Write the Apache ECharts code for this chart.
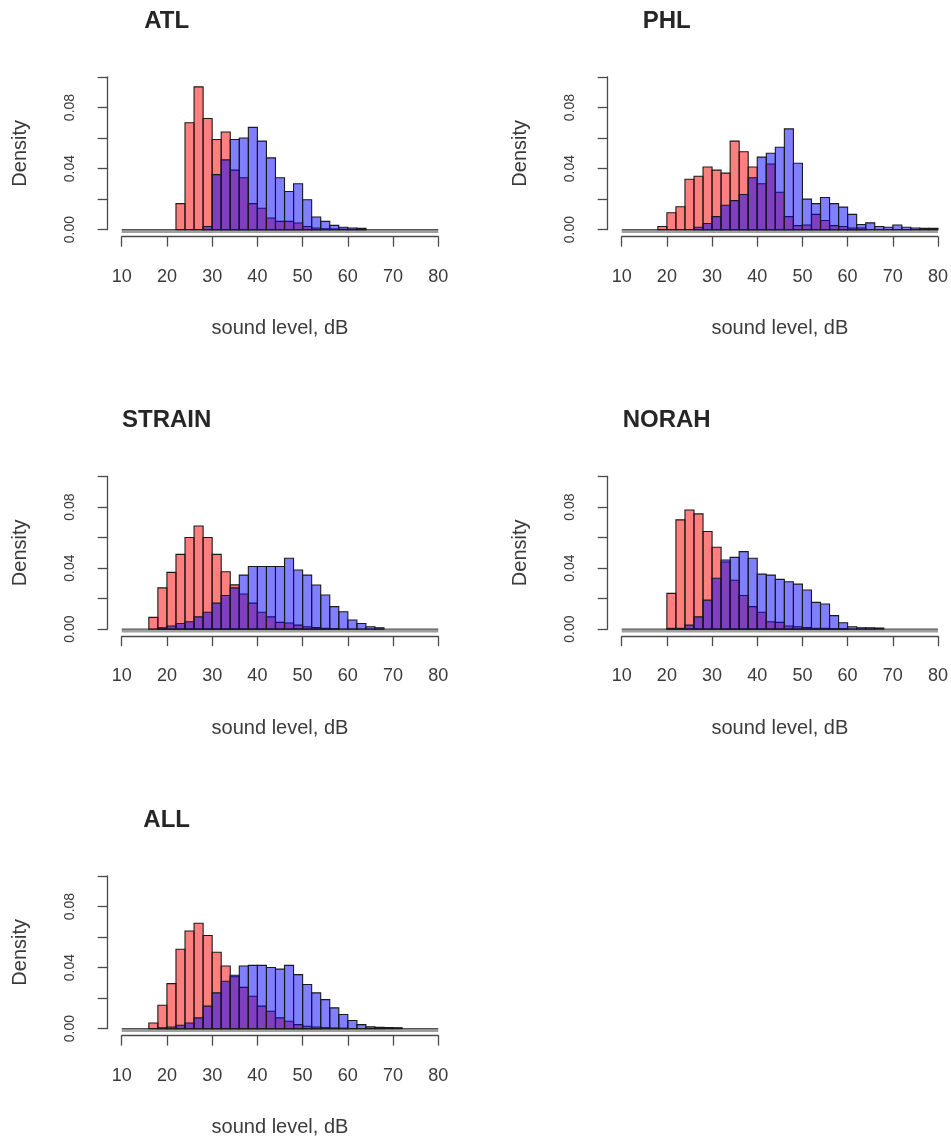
<!DOCTYPE html>
<html>
<head>
<meta charset="utf-8">
<script src="https://cdn.jsdelivr.net/npm/echarts@6/dist/echarts.min.js"></script>
<style>
  html, body { margin: 0; padding: 0; background: #ffffff; }
  #chart { width: 951px; height: 1139px; }
</style>
</head>
<body>
<div id="chart"></div>
<script>
// ---- data (densities, 2 dB bins) ----
const BREAKS = [14,16,18,20,22,24,26,28,30,32,34,36,38,40,42,44,46,48,50,52,54,56,58,60,62,64,66,68,70,72,74,76,78,80];
const X_TICKS = [10, 20, 30, 40, 50, 60, 70, 80];
const Y_TICK_LABELS = ['0.00', '0.04', '0.08'];
const PANEL_NAMES = ['ATL', 'PHL', 'STRAIN', 'NORAH', 'ALL'];
const X_LABEL = 'sound level, dB';
const Y_LABEL = 'Density';

// first bin left edge per panel/series
const atlRedStart = 22;
const atlRed = [0.017, 0.070, 0.0935, 0.0728, 0.059, 0.064, 0.039, 0.034, 0.017, 0.014, 0.0076, 0.0054, 0.0054, 0.0043, 0.002, 0.001, 0.0005, 0.0004, 0.0003, 0.0002, 0.0002];
const atlBlueStart = 28;
const atlBlue = [0.002, 0.036, 0.0457, 0.059, 0.060, 0.067, 0.058, 0.047, 0.034, 0.025, 0.030, 0.0196, 0.0083, 0.0054, 0.0028, 0.0015, 0.001, 0.0008];

const phlRedStart = 18;
const phlRed = [0.002, 0.011, 0.015, 0.033, 0.035, 0.041, 0.039, 0.037, 0.058, 0.051, 0.041, 0.030, 0.043, 0.0245, 0.0085, 0.0026, 0.003, 0.010, 0.006, 0.0026, 0.002, 0.001, 0.001];
const phlBlueStart = 26;
const phlBlue = [0.0015, 0.004, 0.0085, 0.016, 0.019, 0.023, 0.034, 0.0475, 0.050, 0.054, 0.066, 0.0435, 0.020, 0.017, 0.021, 0.017, 0.0147, 0.010, 0.0033, 0.0044, 0.002, 0.0015, 0.003, 0.0015, 0.001, 0.0008, 0.0008];

const strainRedStart = 16;
const strainRed = [0.0077, 0.027, 0.0372, 0.049, 0.060, 0.0676, 0.060, 0.049, 0.0376, 0.029, 0.023, 0.017, 0.011, 0.008, 0.0044, 0.004, 0.0026, 0.0015, 0.001, 0.0005, 0.0003];
const strainBlueStart = 18;
const strainBlue = [0.0009, 0.002, 0.0037, 0.0048, 0.008, 0.011, 0.017, 0.022, 0.027, 0.0354, 0.041, 0.041, 0.041, 0.041, 0.0464, 0.0387, 0.0354, 0.0289, 0.0223, 0.0147, 0.0114, 0.006, 0.0037, 0.0015, 0.0009];

const norahRedStart = 20;
const norahRed = [0.0234, 0.0716, 0.078, 0.0755, 0.064, 0.0536, 0.044, 0.032, 0.022, 0.0147, 0.011, 0.0048, 0.0044, 0.002, 0.0015, 0.001, 0.0005, 0.0005, 0.0003, 0.0003];
const norahBlueStart = 20;
const norahBlue = [0.0005, 0.0005, 0.0026, 0.008, 0.019, 0.0333, 0.0453, 0.047, 0.0508, 0.0464, 0.036, 0.0354, 0.0326, 0.031, 0.0295, 0.0256, 0.0175, 0.0164, 0.0088, 0.0042, 0.0015, 0.0009, 0.0009, 0.0007];

const allRedStart = 16;
const allRed = [0.0037, 0.0153, 0.0295, 0.052, 0.064, 0.069, 0.061, 0.050, 0.041, 0.034, 0.027, 0.0212, 0.0147, 0.0114, 0.007, 0.0048, 0.0026, 0.0015, 0.001, 0.0006, 0.0004, 0.0003];
const allBlueStart = 18;
const allBlue = [0.0005, 0.001, 0.0022, 0.0037, 0.007, 0.0147, 0.0234, 0.031, 0.035, 0.041, 0.0414, 0.0414, 0.040, 0.039, 0.0414, 0.0354, 0.0289, 0.0234, 0.019, 0.0136, 0.0092, 0.0053, 0.0026, 0.0011, 0.0008, 0.0007, 0.0006];

// ---- layout ----
const FONT = '"Liberation Sans", Arial, Helvetica, sans-serif';
const COL_LEFT = [121.7, 621.7];
const ROW_TOP = [77, 476.5, 876];
const PLOT_W = 316.6;
const PLOT_H = 152.6;
const RED_FILL = 'rgba(255,0,0,0.5)';
const BLUE_FILL = 'rgba(0,0,255,0.5)';
const AXIS_COLOR = '#4a4a4a';
const TEXT_COLOR = '#3a3a3a';

const panels = [
  { name: PANEL_NAMES[0], col: 0, row: 0, red: [atlRedStart, atlRed], blue: [atlBlueStart, atlBlue] },
  { name: PANEL_NAMES[1], col: 1, row: 0, red: [phlRedStart, phlRed], blue: [phlBlueStart, phlBlue] },
  { name: PANEL_NAMES[2], col: 0, row: 1, red: [strainRedStart, strainRed], blue: [strainBlueStart, strainBlue] },
  { name: PANEL_NAMES[3], col: 1, row: 1, red: [norahRedStart, norahRed], blue: [norahBlueStart, norahBlue] },
  { name: PANEL_NAMES[4], col: 0, row: 2, red: [allRedStart, allRed], blue: [allBlueStart, allBlue] }
];

function binData(start, vals) {
  const i0 = BREAKS.indexOf(start);
  return vals.map((v, i) => [BREAKS[i0 + i], BREAKS[i0 + i + 1], v]);
}

function histSeries(idx, spec, fill, z) {
  return {
    type: 'custom',
    xAxisIndex: idx,
    yAxisIndex: idx,
    z: z,
    silent: true,
    animation: false,
    data: binData(spec[0], spec[1]),
    encode: { x: [0, 1], y: 2 },
    renderItem: function (params, api) {
      const a = api.coord([api.value(0), api.value(2)]);
      const b = api.coord([api.value(1), 0]);
      return {
        type: 'rect',
        shape: { x: a[0], y: a[1], width: b[0] - a[0], height: b[1] - a[1] },
        style: { fill: fill, stroke: '#1a1a1a', lineWidth: 1.1 }
      };
    }
  };
}

function baselineSeries(idx) {
  return {
    type: 'custom',
    xAxisIndex: idx,
    yAxisIndex: idx,
    z: 1,
    silent: true,
    animation: false,
    data: [[X_TICKS[0], X_TICKS[X_TICKS.length - 1]]],
    encode: { x: [0, 1] },
    renderItem: function (params, api) {
      const a = api.coord([api.value(0), 0]);
      const b = api.coord([api.value(1), 0]);
      return {
        type: 'group',
        children: [
          { type: 'line', shape: { x1: a[0], y1: a[1] + 2, x2: b[0], y2: b[1] + 2 }, style: { stroke: '#a0a0a0', lineWidth: 3 } },
          { type: 'line', shape: { x1: a[0], y1: a[1], x2: b[0], y2: b[1] }, style: { stroke: '#555', lineWidth: 1.2 } }
        ]
      };
    }
  };
}

const grids = [], xAxes = [], yAxes = [], series = [], graphics = [];
panels.forEach((p, i) => {
  const left = COL_LEFT[p.col], top = ROW_TOP[p.row];
  grids.push({ left: left, top: top, width: PLOT_W, height: PLOT_H, containLabel: false });
  xAxes.push({
    gridIndex: i, type: 'value', min: X_TICKS[0], max: X_TICKS[X_TICKS.length - 1], interval: 10,
    offset: 7,
    axisLine: { show: true, onZero: false, lineStyle: { color: AXIS_COLOR, width: 1.3 } },
    axisTick: { show: true, length: 10, lineStyle: { color: AXIS_COLOR, width: 1.3 } },
    axisLabel: { show: true, fontSize: 18, color: TEXT_COLOR, margin: 31, fontFamily: FONT, hideOverlap: false },
    splitLine: { show: false },
    name: X_LABEL, nameLocation: 'middle', nameGap: 82,
    nameTextStyle: { fontSize: 20, color: TEXT_COLOR, fontFamily: FONT }
  });
  yAxes.push({
    gridIndex: i, type: 'value', min: 0, max: 0.1, interval: 0.02,
    offset: 14,
    axisLine: { show: true, onZero: false, lineStyle: { color: AXIS_COLOR, width: 1.3 } },
    axisTick: { show: true, length: 10, lineStyle: { color: AXIS_COLOR, width: 1.3 } },
    axisLabel: {
      show: true, rotate: 90, fontSize: 14, color: TEXT_COLOR, margin: 31, fontFamily: FONT,
      formatter: function (v) {
        const s = v.toFixed(2);
        return Y_TICK_LABELS.indexOf(s) >= 0 ? s : '';
      }
    },
    splitLine: { show: false },
    name: Y_LABEL, nameLocation: 'middle', nameGap: 77, nameRotate: 90,
    nameTextStyle: { fontSize: 20, color: TEXT_COLOR, fontFamily: FONT }
  });
  series.push(baselineSeries(i));
  series.push(histSeries(i, p.red, RED_FILL, 2));
  series.push(histSeries(i, p.blue, BLUE_FILL, 3));
  graphics.push({
    type: 'text', x: left + 45, y: top - 56,
    style: { text: p.name, font: 'bold 24px ' + FONT, fill: '#262626', align: 'center', verticalAlign: 'middle' }
  });
});

const chart = echarts.init(document.getElementById('chart'), null, { renderer: 'canvas', width: 951, height: 1139 });
chart.setOption({
  backgroundColor: '#ffffff',
  animation: false,
  grid: grids,
  xAxis: xAxes,
  yAxis: yAxes,
  series: series,
  graphic: graphics
});
</script>
</body>
</html>
